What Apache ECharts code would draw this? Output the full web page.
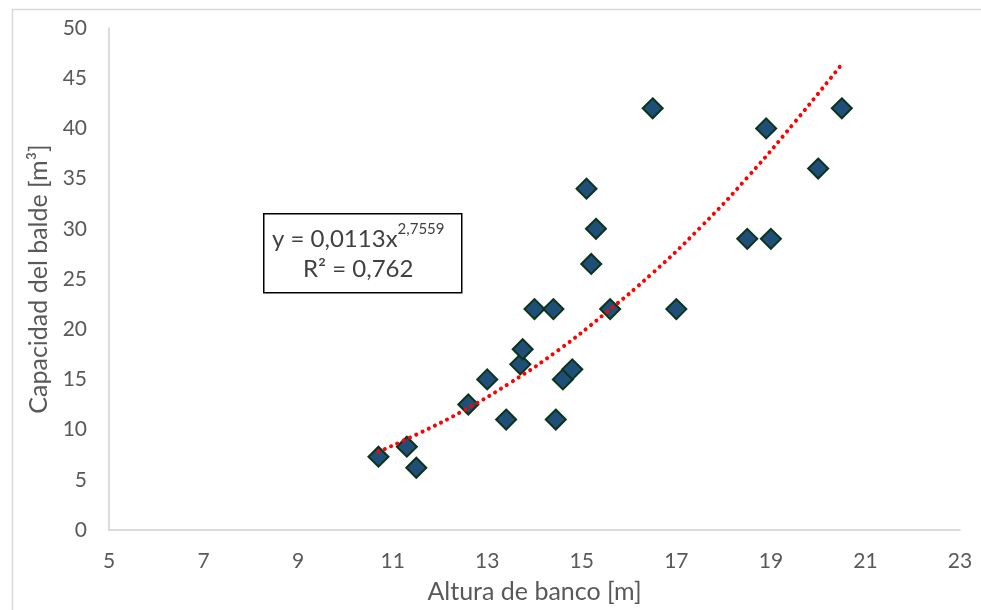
<!DOCTYPE html>
<html>
<head>
<meta charset="utf-8">
<script src="https://cdn.jsdelivr.net/npm/echarts@6/dist/echarts.min.js"></script>
<style>
  html, body { margin: 0; padding: 0; background: #fff; }
  #chart { width: 981px; height: 610px; }
</style>
</head>
<body>
<div id="chart"></div>
<script>
// measured points: bench height [m] vs bucket capacity [m3]
const benchHeight = [10.7, 11.3, 11.5, 12.6, 13.0, 13.4, 13.7, 13.75, 14.0, 14.4, 14.45, 14.6, 14.8, 15.1, 15.2, 15.3, 15.6, 16.5, 17.0, 18.5, 18.9, 19.0, 20.0, 20.5];
const bucketCap   = [7.3, 8.3, 6.2, 12.5, 15, 11, 16.5, 18, 22, 22, 11, 15, 16, 34, 26.5, 30, 22, 42, 22, 29, 40, 29, 36, 42];

// points along the dotted power trendline
const trendX = [10.7, 11.5, 12.5, 13.5, 14.5, 15.5, 16.5, 17.5, 18.5, 19.5, 20.5];
const trendY = [7.8, 9.5, 11.9, 14.7, 17.9, 21.6, 25.6, 30.1, 35.1, 40.6, 46.4];

const xTicks = [5, 7, 9, 11, 13, 15, 17, 19, 21, 23];
const yTicks = [0, 5, 10, 15, 20, 25, 30, 35, 40, 45, 50];

const FONT = 'Lato, "Open Sans", sans-serif';
const labelColor = '#595959';

const chart = echarts.init(document.getElementById('chart'), null, { renderer: 'canvas' });

chart.setOption({
  backgroundColor: '#fff',
  animation: false,
  grid: { left: 109, right: 21, top: 28, bottom: 80 },
  xAxis: {
    type: 'value',
    min: xTicks[0],
    max: xTicks[xTicks.length - 1],
    interval: 2,
    name: 'Altura de banco [m]',
    nameLocation: 'middle',
    nameGap: 49,
    nameTextStyle: { color: labelColor, fontFamily: FONT, fontSize: 25 },
    axisLine: { show: true, lineStyle: { color: '#d0d0d0', width: 1.5 } },
    axisTick: { show: false },
    splitLine: { show: false },
    axisLabel: { color: labelColor, fontFamily: FONT, fontSize: 21, margin: 21 },
  },
  yAxis: {
    type: 'value',
    min: yTicks[0],
    max: yTicks[yTicks.length - 1],
    interval: 5,
    name: 'Capacidad del balde [m³]',
    nameLocation: 'middle',
    nameGap: 57,
    nameTextStyle: { color: labelColor, fontFamily: FONT, fontSize: 25 },
    axisLine: { show: true, lineStyle: { color: '#d0d0d0', width: 1.5 } },
    axisTick: { show: false },
    splitLine: { show: false },
    axisLabel: { color: labelColor, fontFamily: FONT, fontSize: 21, margin: 22 },
  },
  graphic: [
    {
      type: 'rect',
      left: 10, top: 7,
      shape: { width: 990, height: 620 },
      style: { fill: 'none', stroke: '#d9d9d9', lineWidth: 1.5 },
      silent: true,
    },
    {
      type: 'rect',
      left: 263, top: 213,
      shape: { width: 198, height: 79 },
      style: { fill: '#fff', stroke: '#000', lineWidth: 1.5 },
      z: 10,
    },
    {
      type: 'text',
      left: 272, top: 222,
      z: 11,
      style: {
        text: '{b|y = 0,0113x}{s|2,7559}',
        fill: '#404040',
        font: '24px ' + FONT,
        rich: {
          b: { fontSize: 24, fontFamily: FONT, fill: '#404040', height: 30, verticalAlign: 'bottom' },
          s: { fontSize: 15, fontFamily: FONT, fill: '#404040', height: 30, verticalAlign: 'top', padding: [0, 0, 10, 0] },
        },
      },
    },
    {
      type: 'text',
      left: 303, top: 257,
      z: 11,
      style: { text: 'R² = 0,762', fill: '#404040', font: '24px ' + FONT },
    },
  ],
  series: [
    {
      type: 'line',
      data: trendX.map((x, i) => [x, trendY[i]]),
      smooth: true,
      symbol: 'none',
      z: 3,
      lineStyle: { color: '#ff0000', width: 4, type: [0.1, 6.8], cap: 'round' },
    },
    {
      type: 'scatter',
      data: benchHeight.map((x, i) => [x, bucketCap[i]]),
      symbol: 'diamond',
      symbolSize: [20, 20],
      z: 2,
      itemStyle: { color: '#1f4e79', opacity: 1, borderColor: '#0c3418', borderWidth: 2 },
    },
  ],
});
</script>
</body>
</html>
